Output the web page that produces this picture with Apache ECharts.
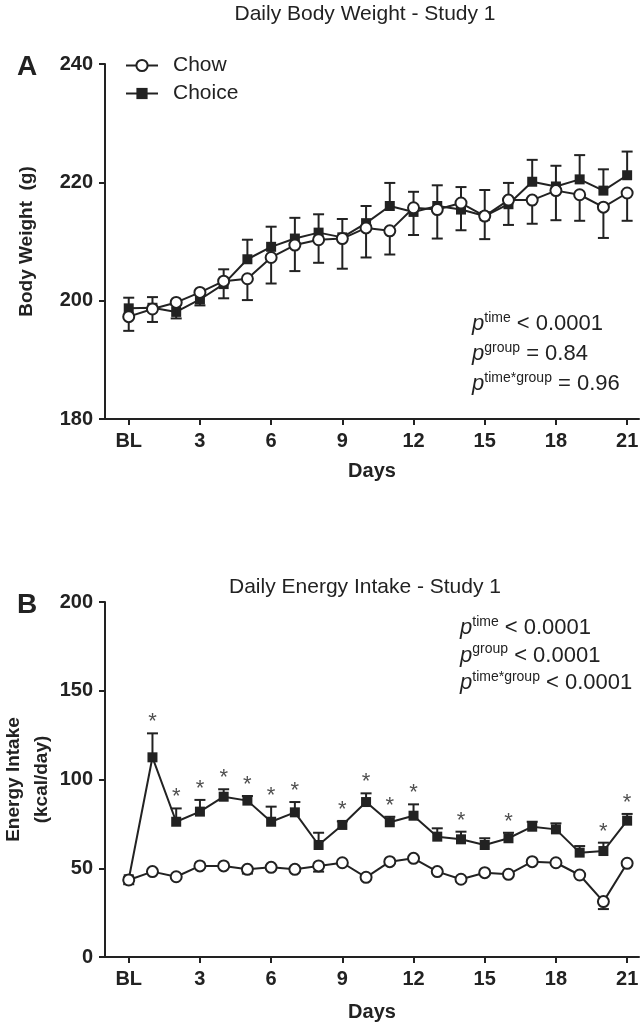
<!DOCTYPE html>
<html><head><meta charset="utf-8">
<script src="https://cdn.jsdelivr.net/npm/echarts@6.0.0/dist/echarts.min.js"></script>
<style>html,body{margin:0;padding:0;background:#fff}#c{width:643px;height:1029px}</style>
</head><body><div id="c"></div>
<script>
// ---- data ----
const days = [0,1,2,3,4,5,6,7,8,9,10,11,12,13,14,15,16,17,18,19,20,21];
const xTickValues = [0,3,6,9,12,15,18,21];
const xTickLabels = ['BL','3','6','9','12','15','18','21'];
const seriesNames = ['Chow','Choice'];

// Panel A: body weight (g), mean and SEM
const bwChow      = [197.3,198.6,199.7,201.4,203.3,203.7,207.3,209.4,210.3,210.5,212.3,211.8,215.7,215.4,216.5,214.3,217.0,217.0,218.6,217.9,215.8,218.2];
const bwChowErr   = [2.4,2.2,2.7,2.2,2.9,3.6,4.4,4.4,3.9,5.1,5.0,4.0,4.6,4.9,4.6,3.9,4.2,4.0,5.0,4.4,5.2,4.7];
const bwChoice    = [198.7,198.8,198.1,200.2,202.8,207.0,209.1,210.5,211.5,210.7,213.1,216.0,215.0,216.0,215.4,214.3,216.3,220.1,219.3,220.5,218.6,221.2];
const bwChoiceErr = [1.8,1.8,1.2,1.0,2.5,3.3,3.4,3.5,3.1,3.1,2.9,3.9,3.4,3.5,3.8,4.4,3.6,3.7,3.5,4.1,3.6,4.0];

// Panel B: energy intake (kcal/day), mean and SEM
const eiChow      = [43.4,48.1,45.2,51.3,51.3,49.4,50.5,49.4,51.3,53.1,44.9,53.7,55.6,48.1,43.8,47.5,46.6,53.7,53.1,46.2,31.2,52.8];
const eiChowErr   = [2.4,1,1,1,1,2.4,1,1,3.2,1,1,1,1,1,1,1,1,1,1,1,4.2,1];
const eiChoice    = [43.8,112.5,76.2,81.9,90.3,88.1,76.2,81.5,63.1,74.4,87.3,75.9,79.6,67.8,66.3,63.1,66.9,73.4,71.9,58.8,59.7,76.8];
const eiChoiceErr = [1,13.5,7.5,6.6,4.2,2.6,8.5,5.8,6.9,2.0,4.9,3.1,6.4,4.7,4.3,3.8,3.1,2.8,3.4,3.7,4.7,3.8];
const eiSigDays   = [1,2,3,4,5,6,7,9,10,11,12,14,16,20,21];

const titleA = 'Daily Body Weight - Study 1';
const titleB = 'Daily Energy Intake - Study 1';
const statsA = [['time','< 0.0001'],['group','= 0.84'],['time*group','= 0.96']];
const statsB = [['time','< 0.0001'],['group','< 0.0001'],['time*group','< 0.0001']];

// ---- styling ----
const FONT = "'Liberation Sans', Arial, Helvetica, sans-serif";
const INK = '#222';

function errSeries(name, gi, means, errs, dir, z) {
  return {
    type: 'custom', name: name, xAxisIndex: gi, yAxisIndex: gi, z: z, silent: true,
    encode: { x: 0, y: [1, 2] },
    data: days.map((d, i) => [d, means[i], means[i] + dir * errs[i]]),
    renderItem: function (params, api) {
      const p0 = api.coord([api.value(0), api.value(1)]);
      const p1 = api.coord([api.value(0), api.value(2)]);
      const hw = 5.5;
      return { type: 'group', children: [
        { type: 'line', shape: { x1: p0[0], y1: p0[1], x2: p1[0], y2: p1[1] }, style: { stroke: INK, lineWidth: 2 } },
        { type: 'line', shape: { x1: p1[0] - hw, y1: p1[1], x2: p1[0] + hw, y2: p1[1] }, style: { stroke: INK, lineWidth: 2 } }
      ] };
    }
  };
}

function lineSeries(name, gi, vals, isChow, z) {
  return {
    type: 'line', name: name, xAxisIndex: gi, yAxisIndex: gi, z: z,
    data: days.map((d, i) => [d, vals[i]]),
    symbol: isChow ? 'circle' : 'rect',
    symbolSize: isChow ? 11 : 10,
    showAllSymbol: true,
    lineStyle: { color: INK, width: 2 },
    itemStyle: isChow ? { color: '#fff', borderColor: INK, borderWidth: 2 } : { color: INK, borderColor: INK, borderWidth: 0 },
    emphasis: { disabled: true }
  };
}

function xAxisCfg(gi) {
  return {
    type: 'value', gridIndex: gi, min: -1, max: 21.5,
    axisLine: { onZero: false, lineStyle: { color: INK, width: 2 } },
    axisTick: { show: true, length: 6, customValues: xTickValues, lineStyle: { color: INK, width: 2 } },
    axisLabel: { customValues: xTickValues, formatter: v => xTickLabels[xTickValues.indexOf(v)] || '',
                 fontFamily: FONT, fontSize: 20, fontWeight: 'bold', color: INK, margin: 12 },
    splitLine: { show: false },
    name: 'Days', nameLocation: 'middle', nameGap: gi === 0 ? 42 : 45, nameMoveOverlap: false,
    nameTextStyle: { fontFamily: FONT, fontSize: 20, fontWeight: 'bold', color: INK }
  };
}

function yAxisCfg(gi, min, max, interval, name, nameGap, lh) {
  return {
    type: 'value', gridIndex: gi, min: min, max: max, interval: interval,
    axisLine: { show: true, onZero: false, lineStyle: { color: INK, width: 2 } },
    axisTick: { show: true, length: 6, lineStyle: { color: INK, width: 2 } },
    axisLabel: { fontFamily: FONT, fontSize: 20, fontWeight: 'bold', color: INK, margin: 12 },
    splitLine: { show: false },
    name: name, nameLocation: 'middle', nameGap: nameGap, nameMoveOverlap: false,
    nameTextStyle: { fontFamily: FONT, fontSize: 19, fontWeight: 'bold', color: INK, lineHeight: lh }
  };
}

function statTexts(stats, x, y0, dy) {
  return stats.map((s, i) => ({
    type: 'text', x: x, y: y0 + i * dy,
    style: {
      text: '{p|p}{s|' + s[0] + '}{n| ' + s[1] + '}',
      verticalAlign: 'middle', align: 'left',
      rich: {
        p: { fontFamily: FONT, fontSize: 22, fontStyle: 'italic', fill: INK, lineHeight: 26, verticalAlign: 'middle' },
        s: { fontFamily: FONT, fontSize: 14, fill: INK, lineHeight: 14, verticalAlign: 'top' },
        n: { fontFamily: FONT, fontSize: 22, fill: INK, lineHeight: 26, verticalAlign: 'middle' }
      }
    }
  }));
}

const chart = echarts.init(document.getElementById('c'), null, { renderer: 'canvas' });
chart.setOption({
  animation: false,
  backgroundColor: '#fff',
  grid: [
    { left: 105, right: 4, top: 64, height: 355, containLabel: false, outerBoundsMode: 'none' },
    { left: 105, right: 4, top: 602, height: 355, containLabel: false, outerBoundsMode: 'none' }
  ],
  xAxis: [xAxisCfg(0), xAxisCfg(1)],
  yAxis: [
    yAxisCfg(0, 180, 240, 20, 'Body Weight  (g)', 66, 24),
    yAxisCfg(1, 0, 200, 50, 'Energy Intake\n(kcal/day)', 49, 28)
  ],
  legend: {
    data: seriesNames, orient: 'vertical', left: 125, top: 55, padding: 0,
    itemWidth: 32, itemHeight: 14, itemGap: 7,
    textStyle: { fontFamily: FONT, fontSize: 21, color: INK, padding: [0, 0, 0, 10] },
    selectedMode: false
  },
  series: [
    errSeries('ChoiceErrA', 0, bwChoice, bwChoiceErr, 1, 2),
    lineSeries('Choice', 0, bwChoice, false, 3),
    errSeries('ChowErrA', 0, bwChow, bwChowErr, -1, 4),
    lineSeries('Chow', 0, bwChow, true, 5),
    errSeries('ChoiceErrB', 1, eiChoice, eiChoiceErr, 1, 2),
    lineSeries('Choice', 1, eiChoice, false, 3),
    errSeries('ChowErrB', 1, eiChow, eiChowErr, -1, 4),
    lineSeries('Chow', 1, eiChow, true, 5),
    {
      type: 'scatter', name: 'sig', xAxisIndex: 1, yAxisIndex: 1, z: 6, silent: true,
      symbolSize: 0,
      data: eiSigDays.map(d => [d, eiChoice[d] + eiChoiceErr[d]]),
      label: { show: true, formatter: '*', position: 'top', distance: 0,
               fontFamily: FONT, fontSize: 22, color: INK }
    }
  ],
  graphic: [
    { type: 'text', x: 365, y: 14, style: { text: titleA, fontFamily: FONT, fontSize: 21, fill: INK, align: 'center', verticalAlign: 'middle' } },
    { type: 'text', x: 365, y: 587, style: { text: titleB, fontFamily: FONT, fontSize: 21, fill: INK, align: 'center', verticalAlign: 'middle' } },
    { type: 'text', x: 17, y: 67, style: { text: 'A', fontFamily: FONT, fontSize: 28, fontWeight: 'bold', fill: INK, align: 'left', verticalAlign: 'middle' } },
    { type: 'text', x: 17, y: 605, style: { text: 'B', fontFamily: FONT, fontSize: 28, fontWeight: 'bold', fill: INK, align: 'left', verticalAlign: 'middle' } }
  ].concat(statTexts(statsA, 472, 324, 30)).concat(statTexts(statsB, 460, 628, 27.5))
});
</script>
</body></html>
